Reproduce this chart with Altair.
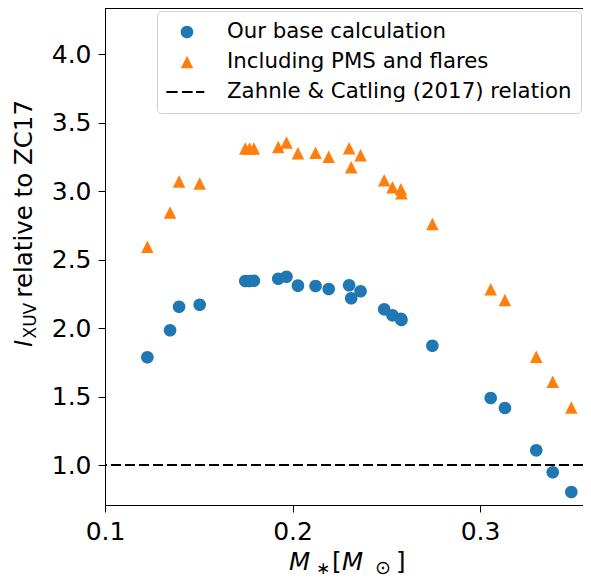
import altair as alt
import pandas as pd

# ---- data ----
stellar_mass = [0.1226, 0.1347, 0.1395, 0.1505, 0.1748, 0.1771, 0.1794, 0.1924, 0.1968,
                0.2029, 0.2123, 0.2193, 0.2302, 0.2313, 0.2363, 0.2489, 0.2533, 0.2578,
                0.2581, 0.2746, 0.3057, 0.3133, 0.3300, 0.3388, 0.3487]
base_calc = [1.787, 1.984, 2.156, 2.171, 2.344, 2.344, 2.346, 2.361, 2.375,
             2.310, 2.307, 2.286, 2.313, 2.218, 2.269, 2.137, 2.093, 2.068,
             2.060, 1.871, 1.489, 1.416, 1.107, 0.947, 0.803]
pms_flares = [2.594, 2.844, 3.071, 3.056, 3.312, 3.312, 3.312, 3.323, 3.356,
              3.277, 3.281, 3.252, 3.313, 3.175, 3.262, 3.080, 3.028, 3.014,
              2.985, 2.760, 2.283, 2.205, 1.791, 1.608, 1.421]
zc17_level = [1.0]

series_names = ["Our base calculation", "Including PMS and flares",
                "Zahnle & Catling (2017) relation"]
x_ticks = [0.1, 0.2, 0.3]
y_ticks = [1.0, 1.5, 2.0, 2.5, 3.0, 3.5, 4.0]

rows = []
for m, v in zip(stellar_mass, base_calc):
    rows.append({"mass": m, "ixuv": v, "series": series_names[0]})
for m, v in zip(stellar_mass, pms_flares):
    rows.append({"mass": m, "ixuv": v, "series": series_names[1]})
points_df = pd.DataFrame(rows)

# ---- layout ----
W, H = 478, 497
X_DOMAIN = [0.1, 0.1 + W / 1875.0]
Y_DOMAIN = [0.708, 4.338]
FONT = "DejaVu Sans"

# custom symbol paths (size 1600 -> unit = 20 px)
CIRCLE = "M0.315,0A0.315,0.315,0,1,1,-0.315,0A0.315,0.315,0,1,1,0.315,0Z"
TRI = "M0,-0.3125L0.3125,0.3125L-0.3125,0.3125Z"
DASH = "M-1.03,0H-0.47M-0.25,0H0.28M0.45,0H0.865"

xscale = alt.Scale(domain=X_DOMAIN, nice=False, zero=False)
yscale = alt.Scale(domain=Y_DOMAIN, nice=False, zero=False)

axis_common = dict(format=".1f", title=None, labelFontSize=25, labelFont=FONT,
                   labelColor="black", tickColor="black", domainColor="black",
                   tickSize=7, tickWidth=1, domainWidth=1, grid=False)
x_axis = alt.Axis(values=x_ticks, labelPadding=7, labelFlush=False, **axis_common)
y_axis = alt.Axis(values=y_ticks, labelPadding=7, **axis_common)

legend = alt.Legend(title=None, orient="none", legendX=52, legendY=3,
                    labelFontSize=21.3, labelFont=FONT, labelColor="black",
                    labelLimit=500, labelOffset=19, symbolSize=1600,
                    symbolStrokeWidth=2, clipHeight=24, rowPadding=6,
                    padding=9, strokeColor="#d0d0d0", fillColor="white",
                    cornerRadius=4)

points = alt.Chart(points_df).mark_point(
    filled=True, size=1600, opacity=1, strokeWidth=2
).encode(
    x=alt.X("mass:Q", scale=xscale, axis=x_axis),
    y=alt.Y("ixuv:Q", scale=yscale, axis=y_axis),
    color=alt.Color("series:N", legend=legend,
                    scale=alt.Scale(domain=series_names,
                                    range=["#1f77b4", "#ff7f0e", "#000000"])),
    stroke=alt.Stroke("series:N", legend=legend,
                      scale=alt.Scale(domain=series_names,
                                      range=["rgba(0,0,0,0)", "rgba(0,0,0,0)", "#000000"])),
    shape=alt.Shape("series:N", legend=legend,
                    scale=alt.Scale(domain=series_names, range=[CIRCLE, TRI, DASH])),
)

rule = alt.Chart(pd.DataFrame({"level": zc17_level})).mark_rule(
    color="black", strokeWidth=2, strokeDash=[10, 4]
).encode(y=alt.Y("level:Q", scale=yscale, axis=y_axis))

top_spine = alt.Chart(pd.DataFrame({"k": [0]})).mark_rule(
    color="black", strokeWidth=1
).encode(x=alt.value(0), x2=alt.value(W), y=alt.value(0.5))


def label(txt, x, y, size, italic=False, align="left", angle=0):
    return alt.Chart(pd.DataFrame({"t": [txt]})).mark_text(
        align=align, baseline="alphabetic", fontSize=size, font=FONT,
        fontStyle="italic" if italic else "normal", angle=angle, color="black"
    ).encode(text="t:N", x=alt.value(x), y=alt.value(y))


# y title: I_XUV relative to ZC17 (rotated)
ytitle = [
    label("I", -73, 339, 24.5, italic=True, angle=270),
    label("XUV", -69, 330.5, 17, angle=270),
    label("relative to ZC17", -73, 92, 24.5, align="right", angle=270),
]
# x title: M_* [M_sun]
xtitle = [
    label("M", 184, 562, 24.5, italic=True),
    label("∗", 211, 566, 17),
    label("[", 227, 562, 24.5),
    label("M", 237, 562, 24.5, italic=True),
    label("⊙", 270, 566, 19),
    label("]", 291, 562, 24.5),
]

chart = alt.layer(rule, points, top_spine, *ytitle, *xtitle).properties(
    width=W, height=H,
    autosize=alt.AutoSizeParams(type="none"),
    padding={"left": 97, "top": 0, "right": 0, "bottom": 72},
).configure_view(stroke=None)

chart.save("out.html", embed_options={"renderer": "svg", "actions": False})
